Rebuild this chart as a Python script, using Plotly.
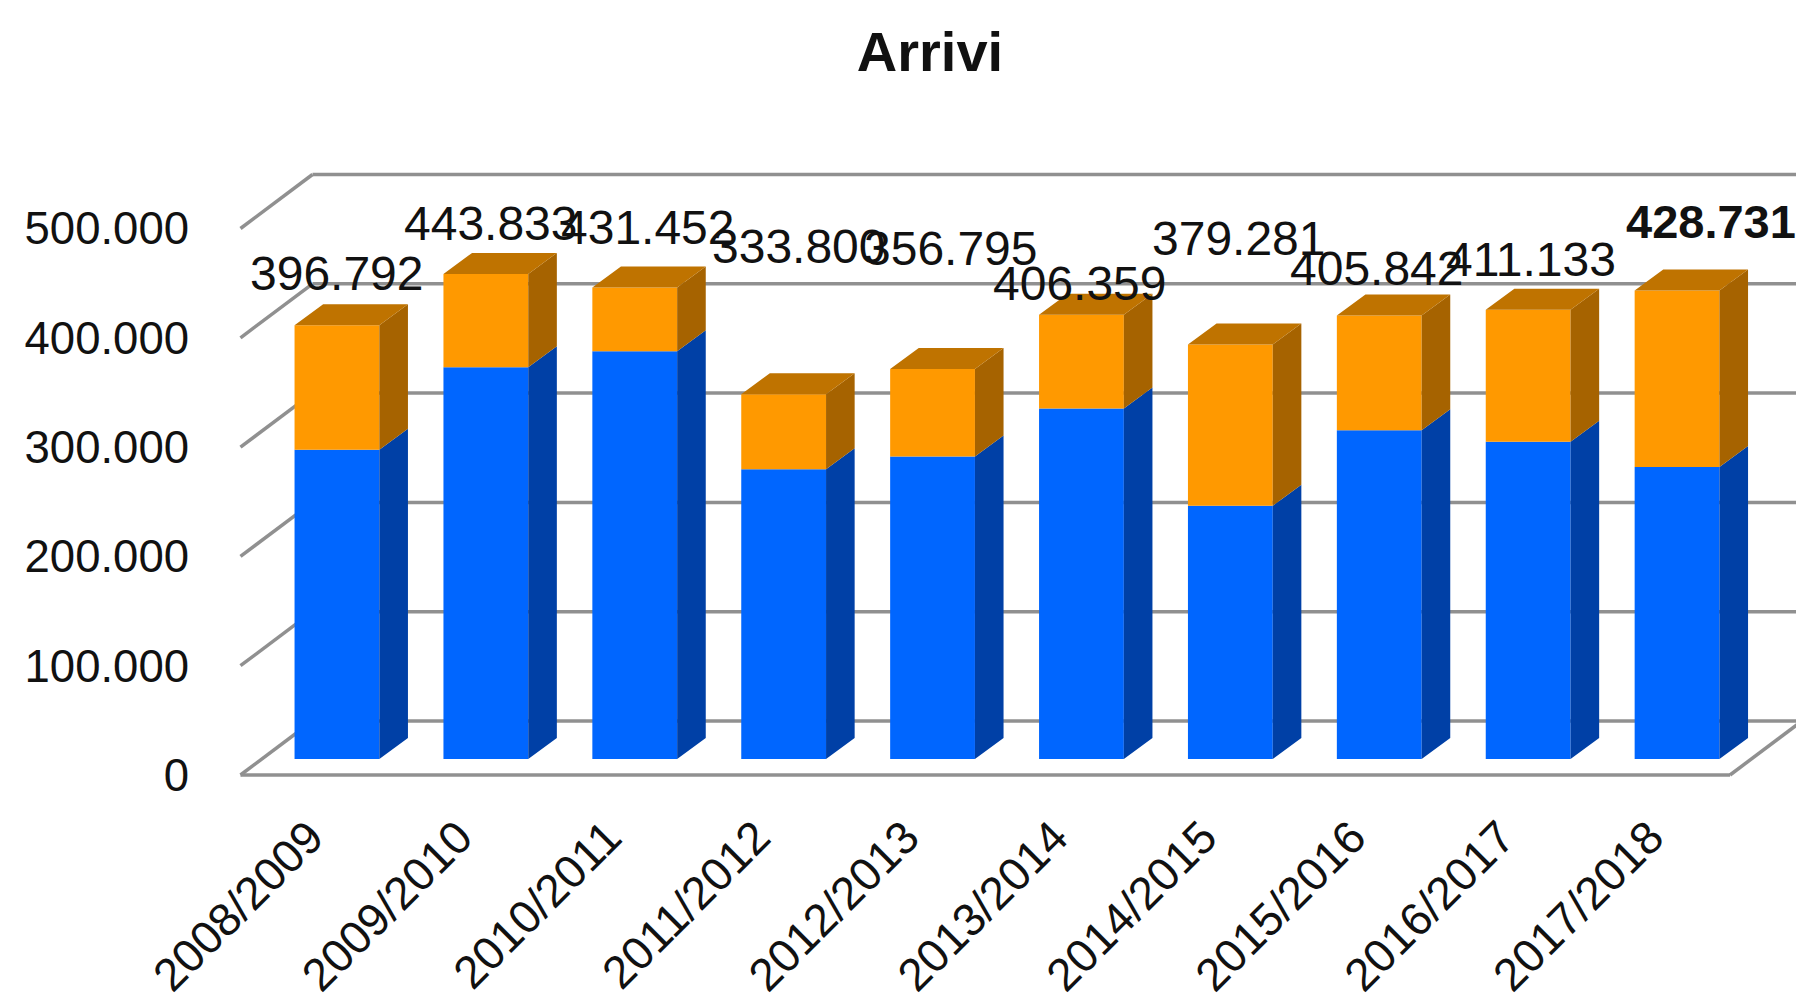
import plotly.graph_objects as go

categories = ["2008/2009", "2009/2010", "2010/2011", "2011/2012", "2012/2013",
              "2013/2014", "2014/2015", "2015/2016", "2016/2017", "2017/2018"]
blue_values = [283000, 358400, 373100, 265200, 276700, 320700, 231600, 300800, 290300, 267200]
orange_values = [113792, 85433, 58352, 68600, 80095, 85659, 147681, 105042, 120833, 161531]
total_labels = ["396.792", "443.833", "431.452", "333.800", "356.795",
                "406.359", "379.281", "405.842", "411.133", "428.731"]
y_ticks = [0, 100000, 200000, 300000, 400000, 500000]
y_tick_labels = ["0", "100.000", "200.000", "300.000", "400.000", "500.000"]

# pixel geometry of the figure
W, H = 1796, 999
PX_PER_CAT = 148.9
PX_PER_UNIT = 109.3 / 100000
X_LEFT_PX = 240.5
FLOOR_PX = 775
PLOT_L, PLOT_T, PLOT_B = 236, 100, 780


def xv(px):
    return (px - X_LEFT_PX) / PX_PER_CAT - 0.5


def yv(px):
    return (FLOOR_PX - px) / PX_PER_UNIT


# pseudo-3D depth, in axis units
WALL_DX, WALL_DY = 72 / PX_PER_CAT, 54 / PX_PER_UNIT
BAR_SHIFT_X, BAR_BASE = 22 / PX_PER_CAT, 16 / PX_PER_UNIT
BAR_W = 84.8 / PX_PER_CAT
BAR_DX, BAR_DY = 28.6 / PX_PER_CAT, 21 / PX_PER_UNIT
TICK_SHIFT = -5 / PX_PER_CAT

FRONT_BLUE, SIDE_BLUE = "#0066FF", "#0040A6"
FRONT_ORANGE, SIDE_ORANGE, TOP_ORANGE = "#FF9900", "#A66300", "#BF7300"
GRID = "#909090"
FONT = "Liberation Sans, Arial, sans-serif"

n = len(categories)
xpos = [i + BAR_SHIFT_X for i in range(n)]

side_b_x, side_b_y, side_o_x, side_o_y, top_x, top_y = [], [], [], [], [], []
for x, b, o in zip(xpos, blue_values, orange_values):
    r = x + BAR_W / 2
    l = x - BAR_W / 2
    y0 = BAR_BASE
    y1 = BAR_BASE + b
    y2 = y1 + o
    side_b_x += [r, r + BAR_DX, r + BAR_DX, r, None]
    side_b_y += [y0, y0 + BAR_DY, y1 + BAR_DY, y1, None]
    side_o_x += [r, r + BAR_DX, r + BAR_DX, r, None]
    side_o_y += [y1, y1 + BAR_DY, y2 + BAR_DY, y2, None]
    top_x += [l, l + BAR_DX, r + BAR_DX, r, None]
    top_y += [y2, y2 + BAR_DY, y2 + BAR_DY, y2, None]

fig = go.Figure()
fig.add_bar(x=xpos, y=blue_values, base=BAR_BASE, width=BAR_W,
            marker=dict(color=FRONT_BLUE, line_width=0), name="Serie 1")
fig.add_bar(x=xpos, y=orange_values, base=[BAR_BASE + b for b in blue_values], width=BAR_W,
            marker=dict(color=FRONT_ORANGE, line_width=0), name="Serie 2")
for px_, py_, col in [(side_b_x, side_b_y, SIDE_BLUE), (side_o_x, side_o_y, SIDE_ORANGE), (top_x, top_y, TOP_ORANGE)]:
    fig.add_scatter(x=px_, y=py_, mode="lines", fill="toself", fillcolor=col,
                    line=dict(width=0, color=col), hoverinfo="skip")

# walls and grid, beneath the bars
x_front_l = xv(X_LEFT_PX)
x_back_l = x_front_l + WALL_DX
x_front_r = xv(1730)
x_far = xv(W + 20)
shapes = []
line = dict(color=GRID, width=3.5)
for t in y_ticks:
    shapes.append(dict(type="line", xref="x", yref="y", layer="below", line=line,
                       x0=x_front_l, y0=t, x1=x_back_l, y1=t + WALL_DY))
    shapes.append(dict(type="line", xref="x", yref="y", layer="below", line=line,
                       x0=x_back_l, y0=t + WALL_DY, x1=x_far, y1=t + WALL_DY))
shapes.append(dict(type="line", xref="x", yref="y", layer="below", line=line,
                   x0=x_front_l, y0=0, x1=x_front_r, y1=0))
shapes.append(dict(type="line", xref="x", yref="y", layer="below", line=line,
                   x0=x_front_r, y0=0, x1=x_front_r + WALL_DX, y1=WALL_DY))

# label offsets from each bar's top centre, in pixels
label_dx = [0, 5, 13, 15, 18, -1, 9, -2, 3, 34]
label_dy = [52, 50, 60, 148, 121, 31, 106, 47, 50, 69]
annotations = []
for i, (x, b, o, txt) in enumerate(zip(xpos, blue_values, orange_values, total_labels)):
    annotations.append(dict(
        x=x, y=BAR_BASE + b + o, xref="x", yref="y", text=f"<b>{txt}</b>" if i == n - 1 else txt,
        showarrow=False, xanchor="center", yanchor="middle",
        xshift=label_dx[i], yshift=label_dy[i],
        font=dict(family=FONT, size=47 if i == n - 1 else 48, color="#111111"),
    ))

fig.update_layout(
    width=W, height=H,
    margin=dict(l=PLOT_L, r=0, t=PLOT_T, b=H - PLOT_B, autoexpand=False),
    paper_bgcolor="white", plot_bgcolor="white",
    barmode="overlay", showlegend=False,
    title=dict(text="<b>Arrivi</b>", x=930 / W, xanchor="center", xref="container",
               y=1 - 51 / H, yanchor="middle", yref="container",
               font=dict(family=FONT, size=56, color="#111111")),
    shapes=shapes, annotations=annotations,
    xaxis=dict(range=[xv(PLOT_L), xv(W)], tickmode="array",
               tickvals=[i + TICK_SHIFT for i in range(n)],
               ticktext=categories, tickangle=-45, showgrid=False, zeroline=False,
               showline=False, ticks="", ticklabelstandoff=20,
               tickfont=dict(family=FONT, size=46, color="#111111")),
    yaxis=dict(range=[yv(PLOT_B), yv(PLOT_T)], tickmode="array", tickvals=y_ticks,
               ticktext=y_tick_labels, showgrid=False, zeroline=False, showline=False,
               ticks="", ticklabelstandoff=46,
               tickfont=dict(family=FONT, size=45.5, color="#111111")),
)

fig.write_html("out.html", config=dict(displayModeBar=False),
               post_script="document.body.style.margin='0';")
